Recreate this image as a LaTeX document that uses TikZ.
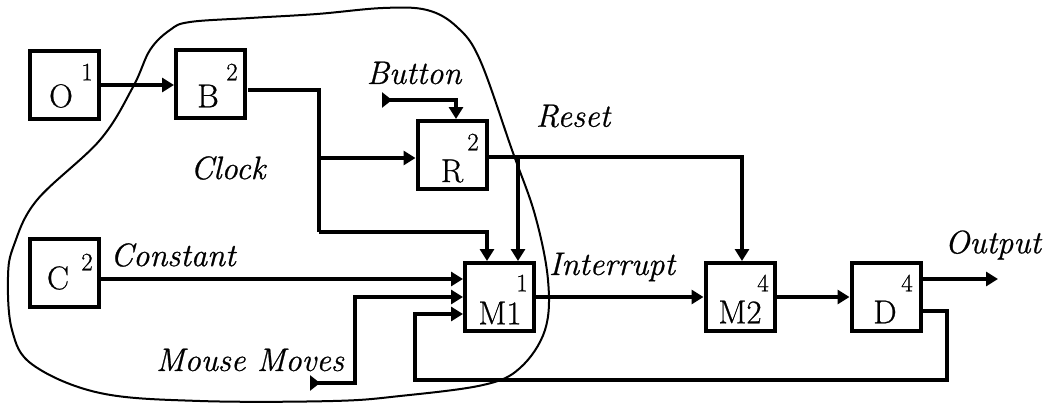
\documentclass[tikz,border=0pt]{standalone}
\usepackage{fontspec}
\setmainfont{Latin Modern Roman}[FakeBold=0.7]
\usetikzlibrary{arrows.meta,calc}
\begin{document}
\begin{tikzpicture}[x=1pt,y=-1pt,
  blk/.style={draw,line width=4pt,minimum width=69pt,minimum height=68pt,inner sep=0pt},
  big/.style={font=\fontsize{33}{38}\selectfont,inner sep=0pt},
  sup/.style={font=\fontsize{25}{29}\selectfont,inner sep=0pt},
  lbl/.style={font=\fontsize{32.5}{38}\selectfont\itshape,inner sep=0pt},
  wire/.style={line width=3.2pt,-{Triangle[length=12pt,width=14pt]}},
  plain/.style={line width=3.2pt},
  tailwire/.style={line width=3.2pt,{Triangle[reversed,length=10pt,width=15pt]}-{Triangle[length=12pt,width=14pt]}},
  blob/.style={line width=2pt}]
\useasboundingbox (0,0) rectangle (1044,404);
% blocks
\node[blk] (O) at (64.5,85) {};
\node[blk] (B) at (210.5,84) {};
\node[blk] (R) at (452,155) {};
\node[blk] (C) at (64.5,273) {};
\node[blk] (M1) at (499.5,297) {};
\node[blk] (M2) at (740,297) {};
\node[blk] (D) at (886,297) {};
% block texts
\node[big] (Ot) at (61,96) {O};   \node[sup] (Os) at (87,72) {1};
\node[big] (Bt) at (208,96) {B};  \node[sup] (Bs) at (232,72) {2};
\node[big] (Rt) at (452,171) {R}; \node[sup] (Rs) at (473,142) {2};
\node[big] (Ct) at (58,278) {C};  \node[sup] (Cs) at (87,262) {2};
\node[big] (M1t) at (500,313) {M1}; \node[sup] (M1s) at (522,283) {1};
\node[big] (M2t) at (740,312) {M2}; \node[sup] (M2s) at (763,283) {4};
\node[big] (Dt) at (885,312) {D};   \node[sup] (Ds) at (907,283) {4};
% labels
\node[lbl] (clock) at (228,168) {Clock};
\node[lbl] (button) at (414,73) {Button};
\node[lbl] (reset) at (573,116) {Reset};
\node[lbl] (constant) at (173,255) {Constant};
\node[lbl] (mouse) at (250,360) {Mouse Moves};
\node[lbl] (interrupt) at (612,267) {Interrupt};
\node[lbl] (output) at (993,245) {Output};
% coordinates
\coordinate (bo) at (248,90);
\coordinate (j1) at (319,90);
\coordinate (j2) at (319,158);
\coordinate (j3) at (319,232);
\coordinate (j4) at (487,232);
\coordinate (ro) at (488,157);
\coordinate (r1) at (518,157);
\coordinate (r2) at (742,157);
\coordinate (bt) at (382,100);
\coordinate (b1) at (456,100);
\coordinate (mt) at (310,383);
\coordinate (m1) at (355,383);
\coordinate (m2) at (355,297);
\coordinate (f0) at (922,311);
\coordinate (f1) at (947,311);
\coordinate (f2) at (947,380);
\coordinate (f3) at (415,380);
\coordinate (f4) at (415,314);
\coordinate (outend) at (998,279);
% connectors
\draw[wire] (O.east |- 0,85) -- (B.west |- 0,85);
\draw[plain] (bo) -- (j1) -- (j3);
\draw[wire] (j2) -- (R.west |- j2);
\draw[wire] (j3) -- (j4) -- (j4 |- M1.north);
\draw[wire] (ro) -- (r2) -- (r2 |- M2.north);
\draw[wire] (r1) -- (r1 |- M1.north);
\draw[tailwire] (bt) -- (b1) -- (b1 |- R.north);
\draw[wire] (C.east |- 0,279) -- (M1.west |- 0,279);
\draw[tailwire] (mt) -- (m1) -- (m2) -- (M1.west |- m2);
\draw[wire] (M1.east |- 0,297) -- (M2.west |- 0,297);
\draw[wire] (M2.east |- 0,297) -- (D.west |- 0,297);
\draw[wire] (D.east |- outend) -- (outend);
\draw[wire] (f0) -- (f1) -- (f2) -- (f3) -- (f4) -- (M1.west |- f4);
% blob
\draw[blob] plot[smooth cycle,tension=0.6] coordinates {
 (190,22) (250,18) (317,14) (383,8) (427,10) (457,27) (480,60) (512,150)
 (535,215) (548,280) (545,330) (520,368) (483,385) (400,396) (333,401)
 (200,401) (100,393) (33,365) (12,330) (8,277) (14,245) (37,200)
 (100,140) (133,87) (150,50) (170,30)};
\end{tikzpicture}
\end{document}
